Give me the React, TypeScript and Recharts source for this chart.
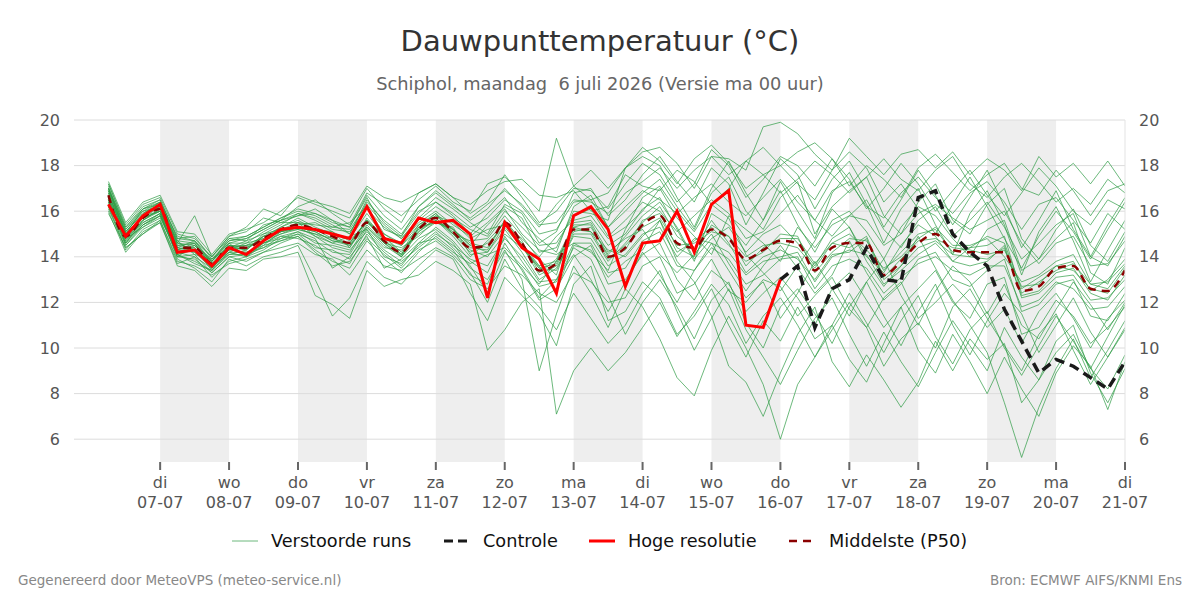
import React from "react";
import { LineChart, Line, XAxis, YAxis, ReferenceArea, ReferenceLine } from "recharts";

// tijd: eerste punt 06-07 06:00, stap 6 uur; uren relatief t.o.v. 07-07 00:00
const startUur = -18;
const stapUur = 6;

const dagTicks = [0, 24, 48, 72, 96, 120, 144, 168, 192, 216, 240, 264, 288, 312, 336];
const dagNamen = ["di", "wo", "do", "vr", "za", "zo", "ma", "di", "wo", "do", "vr", "za", "zo", "ma", "di"];
const dagDatums = ["07-07", "08-07", "09-07", "10-07", "11-07", "12-07", "13-07", "14-07", "15-07", "16-07", "17-07", "18-07", "19-07", "20-07", "21-07"];
const grijzeDagen = [[0, 24], [48, 72], [96, 120], [144, 168], [192, 216], [240, 264], [288, 312]];
const yTicks = [6, 8, 10, 12, 14, 16, 18, 20];

const hogeResolutie = [
  16.3, 14.9, 15.8, 16.3, 14.2, 14.3, 13.6, 14.4, 14.1, 14.7,
  15.2, 15.3, 15.2, 15.0, 14.8, 16.2, 14.8, 14.6, 15.7, 15.5,
  15.6, 15.0, 12.2, 15.5, 14.4, 13.9, 12.4, 15.8, 16.2, 15.2,
  12.7, 14.6, 14.7, 16.0, 14.2, 16.3, 16.9, 11.0, 10.9, 13.0,
];

const controleStart = 39;
const controle = [
  13.0, 13.6, 10.9, 12.6, 13.0, 14.4, 13.0, 12.9, 16.6, 16.9, 15.0,
  14.2, 13.6, 11.7, 10.3, 8.9, 9.5, 9.2, 8.7, 8.2, 9.4,
];

const middelste = [
  16.7, 14.9, 15.7, 16.1, 14.4, 14.4, 13.7, 14.4, 14.4, 14.8,
  15.2, 15.4, 15.2, 14.9, 14.6, 15.5, 14.7, 14.2, 15.2, 15.7,
  15.1, 14.4, 14.5, 15.5, 14.6, 13.4, 13.7, 15.2, 15.2, 14.0,
  14.4, 15.4, 15.8, 14.6, 14.4, 15.2, 14.8, 13.9, 14.3, 14.7,
  14.6, 13.4, 14.4, 14.6, 14.6, 13.2, 13.8, 14.6, 15.0, 14.3,
  14.2, 14.2, 14.2, 12.5, 12.7, 13.5, 13.6, 12.6, 12.5, 13.4,
];

const run01 = [
  17.2, 15.3, 16.2, 16.5, 14.8, 14.9, 13.9, 14.7, 14.9, 15.3,
  15.7, 16.0, 15.8, 15.4, 15.0, 16.4, 15.6, 15.0, 16.0, 16.4,
  15.8, 15.0, 15.9, 16.6, 15.5, 14.8, 14.2, 16.2, 16.7, 15.3,
  16.0, 16.8, 17.4, 16.2, 15.2, 16.8, 17.5, 16.0, 15.2, 16.6,
  17.3, 15.0, 16.2, 16.9, 17.5, 15.8, 15.0, 16.4, 17.2, 15.6,
  15.0, 16.3, 17.0, 14.8, 13.9, 15.2, 16.1, 14.5, 13.8, 15.1,
];
const run02 = [
  16.4, 14.6, 15.5, 15.9, 14.0, 13.9, 13.3, 14.0, 13.8, 14.2,
  14.6, 14.9, 14.3, 13.8, 13.5, 14.7, 13.9, 13.3, 14.2, 14.9,
  14.3, 13.2, 12.8, 14.6, 13.4, 12.1, 12.6, 14.0, 14.5, 12.8,
  13.0, 14.1, 14.6, 13.0, 12.1, 13.4, 12.8, 11.6, 12.4, 13.1,
  12.2, 11.0, 12.6, 13.3, 12.1, 10.9, 11.8, 12.6, 13.4, 12.0,
  11.3, 12.8, 13.1, 10.6, 10.9, 12.1, 11.4, 10.2, 10.9, 11.8,
];
const run03 = [
  17.0, 15.1, 15.9, 16.3, 14.6, 14.3, 13.8, 14.6, 14.6, 15.1,
  15.5, 15.8, 15.9, 15.6, 15.3, 16.6, 15.2, 14.9, 15.9, 16.6,
  16.1, 15.5, 15.0, 16.3, 15.9, 14.6, 15.1, 16.8, 17.0, 15.8,
  16.5, 17.6, 18.4, 17.3, 16.4, 17.9, 17.2, 15.4, 16.8, 18.3,
  17.6, 16.1, 17.4, 18.2, 16.9, 15.3, 16.5, 17.8, 16.7, 15.4,
  16.6, 17.8, 16.2, 14.4, 15.6, 16.9, 15.2, 14.0, 15.4, 16.6,
];
const run04 = [
  16.2, 14.3, 15.2, 15.6, 13.9, 13.5, 12.9, 13.9, 13.6, 14.0,
  14.2, 14.5, 13.0, 11.4, 12.2, 13.8, 13.1, 12.8, 13.6, 14.3,
  13.9, 12.4, 11.2, 13.1, 12.3, 11.5, 10.1, 12.8, 13.6, 11.2,
  11.6, 12.9, 12.2, 10.6, 11.4, 12.6, 11.0, 9.6, 11.2, 10.3,
  11.8, 10.4, 11.0, 12.4, 11.1, 9.8, 11.2, 12.3, 10.5, 9.3,
  10.8, 11.6, 10.0, 8.8, 10.1, 11.4, 10.3, 9.1, 10.5, 11.9,
];
const run05 = [
  17.3, 15.5, 16.4, 16.7, 15.1, 15.0, 14.1, 15.0, 15.2, 15.5,
  16.0, 16.6, 16.3, 16.0, 15.7, 17.0, 16.1, 15.5, 16.8, 17.2,
  16.6, 15.9, 16.4, 17.6, 16.6, 15.5, 16.0, 17.0, 16.9, 16.1,
  17.2, 18.1, 17.6, 16.4, 17.2, 18.7, 18.0, 16.6, 17.4, 18.4,
  18.0, 17.1, 18.3, 17.4, 16.1, 17.0, 18.1, 17.2, 16.0, 16.9,
  17.8, 16.7, 15.8, 16.8, 17.9, 17.1, 16.0, 15.4, 16.5, 16.1,
];
const run06 = [
  15.9, 14.4, 15.0, 15.5, 13.7, 14.0, 13.1, 13.8, 14.0, 14.6,
  14.9, 14.8, 14.5, 14.0, 13.7, 15.0, 14.2, 13.6, 14.6, 15.3,
  14.7, 13.8, 13.3, 14.9, 13.8, 12.7, 12.9, 14.4, 13.9, 12.3,
  10.6, 12.0, 13.0, 11.8, 10.4, 12.1, 12.9, 11.1, 10.0, 11.8,
  12.6, 11.5, 10.2, 11.8, 12.9, 11.4, 10.1, 11.6, 12.8, 11.0,
  9.7, 11.2, 12.4, 11.5, 9.8, 11.0, 12.2, 10.7, 9.6, 10.9,
];
const run07 = [
  16.9, 15.0, 15.8, 16.2, 14.5, 14.6, 13.6, 14.5, 14.3, 14.9,
  15.3, 15.6, 15.2, 15.1, 14.4, 15.7, 14.8, 14.0, 15.3, 15.9,
  15.0, 14.7, 14.8, 15.8, 14.9, 13.9, 13.2, 15.5, 15.6, 14.5,
  15.0, 16.1, 16.6, 15.2, 13.8, 15.9, 15.4, 14.5, 15.6, 16.9,
  15.4, 14.2, 15.6, 16.0, 15.1, 13.9, 15.3, 16.2, 15.8, 14.8,
  14.0, 15.2, 15.6, 13.4, 13.9, 14.8, 15.5, 13.3, 12.8, 14.4,
];
const run08 = [
  16.6, 14.7, 15.6, 16.0, 14.3, 14.2, 13.5, 14.3, 14.2, 14.5,
  15.1, 15.2, 15.0, 14.6, 14.9, 15.2, 14.4, 14.3, 15.0, 15.5,
  15.3, 14.1, 14.2, 15.2, 14.2, 13.0, 13.5, 14.9, 14.8, 13.6,
  14.1, 15.0, 15.3, 14.0, 14.8, 14.6, 14.2, 13.2, 13.8, 14.0,
  14.2, 12.9, 14.0, 14.3, 14.1, 12.8, 13.4, 14.1, 14.6, 13.8,
  13.6, 13.8, 14.5, 12.2, 12.4, 13.1, 13.2, 12.1, 12.2, 13.0,
];
const run09 = [
  17.1, 15.2, 16.0, 16.4, 14.9, 14.7, 13.8, 14.8, 14.7, 15.4,
  15.6, 16.2, 16.5, 15.9, 15.4, 16.8, 16.3, 15.8, 16.5, 17.1,
  16.4, 16.0, 17.2, 17.5, 16.8, 16.0, 19.2, 17.1, 16.5, 16.8,
  17.9, 18.6, 18.8, 18.1, 17.0, 18.4, 18.3, 17.8, 19.7, 19.9,
  19.4, 18.5, 17.8, 19.2, 18.4, 17.6, 18.5, 18.7, 17.9, 18.6,
  17.6, 18.3, 17.8, 16.9, 18.4, 17.5, 18.1, 17.2, 18.2, 17.1,
];
const run10 = [
  16.0, 14.2, 15.1, 15.5, 13.6, 13.4, 12.7, 13.5, 13.4, 13.9,
  14.0, 14.2, 12.3, 11.9, 11.3, 13.4, 12.7, 13.0, 13.2, 13.8,
  13.4, 12.8, 9.9, 10.8, 12.0, 12.6, 7.1, 9.0, 10.0, 9.0,
  9.8, 10.9, 12.0, 10.5, 11.6, 12.8, 11.9, 10.2, 11.4, 12.2,
  11.0, 9.6, 10.8, 12.0, 10.9, 9.2, 10.4, 11.1, 10.0, 11.8,
  12.6, 11.3, 10.1, 9.0, 10.6, 11.5, 9.9, 8.4, 9.6, 10.8,
];
const run11 = [
  16.5, 14.5, 15.4, 15.8, 14.1, 13.7, 13.4, 14.1, 14.1, 14.4,
  14.7, 15.0, 14.7, 14.2, 14.1, 15.3, 14.5, 14.0, 14.8, 15.2,
  14.6, 13.5, 13.0, 14.3, 13.0, 9.0, 11.5, 13.6, 12.4, 10.9,
  12.6, 11.8, 10.4, 8.7, 7.9, 9.9, 11.4, 10.0, 8.4, 6.0,
  8.4, 9.6, 11.0, 9.5, 8.5, 10.2, 11.8, 9.9, 8.9, 10.6,
  9.4, 8.0, 9.6, 8.2, 7.0, 8.9, 10.1, 9.2, 7.3, 9.4,
];
const run12 = [
  16.8, 14.8, 15.7, 16.0, 14.0, 14.5, 13.7, 14.2, 14.5, 14.7,
  15.0, 15.3, 14.9, 14.4, 14.2, 15.4, 14.6, 14.4, 14.9, 15.6,
  15.0, 14.3, 14.0, 15.0, 14.4, 13.6, 12.5, 14.5, 14.3, 13.1,
  13.8, 14.3, 15.6, 13.8, 12.9, 11.4, 9.2, 8.5, 7.0, 8.9,
  10.6, 11.8, 9.4, 8.3, 9.7, 8.6, 7.4, 8.5, 10.3, 9.0,
  10.4, 9.5, 10.2, 7.6, 8.6, 9.8, 10.6, 9.1, 8.2, 9.7,
];
const run13 = [
  17.0, 15.0, 16.1, 16.3, 14.7, 14.1, 13.9, 14.4, 14.7, 15.0,
  15.4, 15.9, 15.6, 15.2, 15.1, 16.1, 15.3, 14.8, 15.6, 16.2,
  15.7, 15.2, 14.9, 16.0, 15.3, 14.5, 14.6, 15.8, 16.1, 14.9,
  15.6, 16.4, 16.0, 15.1, 15.8, 16.5, 15.9, 14.8, 15.1, 15.9,
  16.7, 15.6, 14.9, 15.8, 16.5, 15.2, 14.4, 15.6, 16.2, 14.9,
  15.6, 16.4, 15.3, 13.9, 14.6, 15.4, 15.9, 14.0, 13.6, 14.9,
];
const run14 = [
  16.3, 14.8, 15.3, 15.7, 14.2, 14.4, 13.4, 14.6, 14.0, 14.3,
  14.8, 15.1, 14.8, 13.5, 14.0, 14.9, 13.5, 13.9, 14.6, 14.8,
  14.2, 13.7, 14.1, 14.4, 13.6, 12.8, 13.8, 15.3, 15.5, 14.2,
  14.8, 15.2, 14.1, 13.3, 14.1, 15.0, 13.7, 12.5, 13.6, 14.5,
  13.5, 12.4, 13.2, 14.7, 13.3, 12.1, 12.8, 13.9, 14.2, 13.0,
  12.7, 13.4, 13.9, 11.6, 11.9, 12.8, 13.0, 11.4, 11.2, 12.4,
];
const run15 = [
  16.7, 15.1, 15.9, 16.4, 14.6, 15.8, 14.0, 14.9, 15.1, 15.7,
  15.5, 15.5, 15.4, 15.3, 15.5, 16.2, 15.0, 14.6, 15.5, 16.0,
  15.4, 14.9, 15.5, 16.2, 15.7, 14.2, 14.4, 16.0, 15.9, 15.6,
  17.9, 18.4, 18.0, 16.6, 15.3, 17.0, 18.2, 16.8, 15.6, 17.3,
  16.0, 14.8, 16.8, 17.7, 16.3, 14.6, 16.1, 17.0, 15.4, 14.1,
  15.9, 16.9, 15.4, 13.2, 15.1, 16.2, 14.7, 12.9, 14.3, 15.6,
];
const run16 = [
  16.5, 14.6, 15.6, 16.1, 14.4, 14.2, 13.6, 14.3, 14.4, 14.8,
  15.3, 15.7, 15.3, 15.0, 14.8, 15.9, 14.9, 14.2, 15.4, 15.9,
  15.2, 14.6, 14.4, 15.6, 14.7, 13.3, 13.9, 15.4, 15.4, 14.0,
  14.3, 15.6, 15.9, 14.4, 14.0, 15.4, 14.9, 13.6, 14.4, 14.8,
  14.8, 13.7, 14.6, 15.0, 14.3, 13.5, 14.0, 14.8, 15.3, 14.5,
  14.5, 14.8, 14.0, 12.9, 13.2, 13.8, 14.1, 12.8, 12.9, 13.7,
];
const run17 = [
  16.8, 14.9, 15.8, 16.0, 14.3, 14.5, 13.8, 14.5, 14.5, 14.6,
  15.0, 15.2, 15.0, 14.8, 14.6, 15.6, 14.7, 14.1, 15.1, 15.7,
  15.0, 14.2, 14.6, 15.3, 14.4, 13.5, 13.4, 15.0, 15.0, 13.8,
  14.6, 15.5, 16.2, 14.9, 14.3, 15.6, 14.6, 13.3, 14.0, 14.3,
  13.9, 13.0, 14.1, 14.2, 14.8, 13.0, 13.6, 14.4, 14.7, 14.1,
  14.0, 13.9, 14.4, 12.3, 12.5, 13.3, 13.5, 12.4, 12.1, 13.2,
];
const run18 = [
  17.2, 15.4, 16.3, 16.6, 15.0, 14.8, 14.0, 14.9, 15.3, 16.1,
  15.8, 16.7, 16.4, 16.2, 15.9, 17.1, 16.6, 16.4, 16.8, 17.2,
  16.6, 16.3, 16.9, 17.3, 17.4, 16.7, 16.6, 16.9, 16.0, 16.2,
  17.6, 17.1, 16.9, 17.8, 17.3, 16.3, 17.0, 18.2, 17.6, 16.8,
  17.4, 18.2, 17.6, 16.8, 17.5, 18.3, 17.4, 16.9, 17.8, 18.4,
  17.2, 16.6, 17.5, 18.1, 17.3, 16.4, 17.0, 16.3, 17.4, 16.8,
];
const run19 = [
  16.1, 14.4, 15.0, 15.6, 13.8, 13.6, 13.2, 13.7, 13.9, 14.2,
  14.4, 14.6, 14.1, 13.9, 13.2, 14.3, 13.6, 13.4, 13.9, 14.4,
  14.0, 13.0, 12.6, 13.6, 13.2, 12.4, 12.0, 13.3, 12.9, 12.0,
  12.2, 13.6, 14.0, 12.4, 12.8, 13.9, 12.5, 12.0, 13.0, 12.7,
  11.4, 12.3, 13.1, 11.7, 10.9, 12.2, 12.9, 11.3, 12.0, 12.8,
  12.0, 10.9, 11.7, 10.2, 11.6, 12.4, 11.3, 10.0, 11.3, 12.1,
];
const run20 = [
  16.6, 15.0, 15.7, 16.2, 14.5, 14.4, 13.5, 14.4, 14.3, 15.0,
  15.2, 15.4, 15.5, 15.1, 14.7, 15.5, 14.8, 14.5, 15.2, 15.8,
  15.5, 14.8, 15.2, 15.4, 14.8, 14.0, 14.9, 15.6, 15.8, 14.8,
  15.3, 16.0, 17.0, 15.7, 14.9, 14.1, 15.8, 15.2, 14.6, 13.8,
  15.3, 14.4, 15.4, 15.8, 15.6, 14.5, 15.0, 15.9, 16.3, 15.7,
  15.2, 15.6, 16.0, 14.6, 13.7, 14.6, 14.9, 13.6, 13.7, 14.7,
];
const run21 = [
  16.4, 14.7, 15.4, 15.8, 14.2, 14.0, 13.5, 14.2, 14.2, 14.4,
  14.9, 15.1, 14.6, 14.5, 14.3, 15.1, 14.3, 13.8, 14.4, 15.0,
  14.5, 13.9, 13.6, 14.8, 14.0, 12.9, 13.0, 14.6, 14.6, 13.3,
  13.5, 14.7, 15.1, 13.6, 13.4, 14.4, 13.9, 12.8, 13.2, 13.9,
  14.0, 12.6, 13.6, 13.9, 13.5, 12.4, 13.1, 13.7, 14.0, 13.4,
  13.2, 13.6, 13.6, 11.8, 12.1, 12.9, 12.6, 11.7, 11.8, 12.7,
];
const run22 = [
  17.0, 15.2, 16.1, 16.4, 14.7, 14.6, 13.8, 14.7, 14.8, 15.2,
  15.6, 15.9, 15.7, 15.3, 15.2, 16.3, 15.4, 14.8, 15.7, 16.4,
  15.9, 15.3, 15.7, 16.5, 16.0, 15.0, 15.2, 16.4, 16.5, 15.3,
  16.2, 16.9, 16.5, 15.9, 16.6, 17.2, 16.4, 15.8, 16.6, 17.4,
  16.4, 15.6, 16.9, 17.3, 16.2, 15.7, 16.8, 17.5, 16.6, 15.9,
  16.8, 17.3, 16.4, 15.2, 16.3, 16.6, 15.6, 14.6, 15.9, 15.2,
];
const run23 = [
  16.5, 14.8, 15.5, 15.9, 14.1, 14.3, 13.6, 14.1, 14.3, 14.9,
  15.1, 15.3, 15.1, 14.7, 14.5, 15.3, 14.6, 14.0, 15.1, 15.6,
  14.9, 14.0, 14.7, 15.5, 14.5, 13.2, 13.6, 15.1, 15.3, 14.1,
  14.9, 15.8, 16.4, 15.3, 13.9, 14.8, 15.3, 14.2, 15.0, 15.4,
  14.6, 13.6, 14.8, 15.3, 14.0, 13.3, 14.5, 15.4, 14.9, 13.8,
  14.4, 14.9, 14.6, 12.6, 13.1, 13.6, 13.8, 12.5, 13.0, 13.9,
];
const run24 = [
  16.9, 15.0, 15.8, 16.3, 14.4, 14.7, 13.7, 14.3, 14.6, 14.8,
  15.2, 15.5, 15.2, 14.8, 14.5, 15.6, 14.9, 14.1, 15.3, 15.5,
  15.2, 14.5, 14.2, 15.4, 14.6, 13.6, 13.8, 15.3, 15.1, 14.3,
  14.0, 14.9, 15.6, 14.2, 14.7, 15.3, 14.5, 13.8, 14.2, 15.0,
  14.9, 13.3, 14.2, 14.8, 14.7, 13.4, 14.2, 15.0, 15.2, 14.2,
  14.4, 14.5, 14.9, 12.4, 12.9, 13.4, 13.7, 12.8, 12.6, 13.6,
];
const run25 = [
  16.6, 14.8, 15.6, 16.1, 14.3, 14.6, 13.6, 14.4, 14.5, 14.9,
  15.1, 15.5, 14.9, 14.6, 14.4, 15.5, 15.0, 14.5, 15.4, 15.8,
  15.2, 14.5, 15.4, 16.1, 15.0, 14.3, 14.1, 14.6, 14.2, 13.4,
  15.2, 16.6, 17.1, 16.0, 15.1, 16.3, 15.7, 14.1, 13.3, 12.5,
  13.6, 14.7, 16.1, 15.3, 13.8, 12.7, 13.6, 14.9, 13.5, 12.1,
  11.0, 9.8, 7.6, 5.2, 7.4, 9.1, 10.4, 8.7, 9.9, 11.2,
];
const run26 = [
  16.9, 15.1, 16.0, 16.2, 14.6, 14.5, 13.9, 14.6, 14.8, 15.2,
  15.6, 15.8, 16.1, 15.6, 15.0, 16.5, 15.5, 14.9, 16.2, 16.9,
  16.3, 15.6, 16.1, 17.0, 16.2, 15.3, 16.3, 17.1, 17.8, 17.0,
  17.9, 18.8, 18.2, 17.2, 18.3, 18.9, 18.1, 17.0, 17.6, 18.0,
  17.2, 16.5, 17.8, 18.6, 17.9, 16.4, 17.2, 16.1, 15.0, 16.3,
  17.5, 16.2, 14.8, 13.5, 14.9, 16.0, 15.1, 13.9, 15.2, 16.4,
];
const run27 = [
  16.2, 14.5, 15.3, 15.8, 14.0, 14.1, 13.3, 14.0, 14.1, 14.6,
  14.8, 15.0, 14.4, 14.3, 13.9, 15.2, 14.0, 13.7, 14.5, 15.1,
  14.4, 13.6, 12.4, 14.2, 13.5, 12.2, 13.0, 14.1, 13.0, 11.6,
  12.9, 14.2, 13.2, 12.0, 13.4, 14.6, 13.4, 12.2, 12.9, 11.3,
  12.4, 13.8, 12.6, 11.4, 12.9, 13.9, 12.3, 11.0, 12.5, 13.6,
  12.9, 11.5, 12.8, 11.0, 10.4, 11.7, 12.9, 11.9, 10.8, 12.0,
];
const run28 = [
  17.0, 15.3, 16.1, 16.5, 14.8, 14.7, 14.0, 14.8, 14.9, 15.3,
  15.7, 16.1, 15.9, 15.5, 15.3, 16.7, 15.8, 15.2, 16.2, 16.8,
  16.2, 15.7, 16.3, 16.9, 16.3, 15.4, 15.5, 16.5, 16.4, 15.9,
  16.8, 17.3, 17.9, 17.0, 17.8, 18.4, 17.6, 18.2, 18.8, 18.0,
  18.6, 19.0, 18.3, 17.1, 18.0, 17.4, 16.6, 17.9, 18.5, 17.7,
  16.9, 17.6, 18.1, 17.0, 16.7, 17.8, 16.9, 15.8, 16.9, 17.2,
];
const run29 = [
  16.7, 14.9, 15.7, 16.0, 14.4, 14.3, 13.7, 14.5, 14.4, 14.7,
  15.1, 15.3, 15.1, 14.7, 14.6, 15.6, 14.6, 14.1, 15.2, 15.6,
  15.1, 14.4, 14.3, 15.6, 14.5, 13.5, 13.7, 15.2, 15.1, 13.9,
  14.5, 15.3, 15.7, 14.5, 14.6, 15.1, 14.9, 14.0, 14.5, 14.6,
  14.4, 13.5, 14.6, 14.4, 14.9, 13.1, 13.9, 14.7, 14.8, 14.4,
  14.3, 14.1, 14.3, 12.7, 12.8, 13.6, 13.4, 12.6, 12.4, 13.5,
];
const run30 = [
  16.3, 14.6, 15.4, 15.9, 14.1, 13.8, 13.4, 14.2, 14.0, 14.5,
  14.7, 14.9, 14.2, 13.6, 13.8, 14.8, 14.1, 13.5, 14.3, 14.7,
  14.1, 13.3, 12.0, 13.9, 12.6, 11.8, 10.8, 12.4, 11.3, 10.2,
  11.0, 12.4, 13.4, 11.6, 9.9, 11.3, 12.6, 10.8, 9.6, 8.4,
  9.9, 11.3, 12.2, 10.6, 9.2, 10.7, 9.4, 8.3, 9.8, 11.2,
  10.1, 9.0, 10.9, 9.6, 8.6, 10.3, 11.0, 8.9, 7.6, 9.1,
];

const verstoordeRuns = [
  run01, run02, run03, run04, run05, run06, run07, run08, run09, run10,
  run11, run12, run13, run14, run15, run16, run17, run18, run19, run20,
  run21, run22, run23, run24, run25, run26, run27, run28, run29, run30,
];

const tabel = middelste.map((p50, i) => {
  const rij: Record<string, number | null> = {
    t: startUur + i * stapUur,
    p50,
    hres: i < hogeResolutie.length ? hogeResolutie[i] : null,
    ctrl: i >= controleStart ? controle[i - controleStart] : null,
  };
  verstoordeRuns.forEach((run, k) => {
    rij["run" + k] = run[i];
  });
  return rij;
});

const font = "'DejaVu Sans', Verdana, sans-serif";
const groen = "#2e9b45";

function DagTick(props: any) {
  const { x, y, payload } = props;
  const idx = dagTicks.indexOf(payload.value);
  return (
    <g>
      <text x={x} y={y + 16} textAnchor="middle" fill="#555" fontSize={16}>
        {dagNamen[idx]}
      </text>
      <text x={x} y={y + 36} textAnchor="middle" fill="#555" fontSize={16}>
        {dagDatums[idx]}
      </text>
    </g>
  );
}

function LegendItem({ left, textLeft, label, stroke, width, dash, opacity }: any) {
  return (
    <>
      <svg style={{ position: "absolute", left, top: 532, width: 28, height: 18 }}>
        <line x1={0} y1={9} x2={26} y2={9} stroke={stroke} strokeWidth={width} strokeDasharray={dash} strokeOpacity={opacity} />
      </svg>
      <div style={{ position: "absolute", left: textLeft, top: 532, fontSize: 17.7, lineHeight: "18px", color: "#111", whiteSpace: "nowrap" }}>
        {label}
      </div>
    </>
  );
}

export default function App() {
  return (
    <div style={{ position: "absolute", left: 0, top: 0, width: 1200, height: 600, background: "#fff", fontFamily: font }}>
      <div style={{ position: "absolute", top: 24, width: 1200, textAlign: "center", fontSize: 29, lineHeight: "34px", color: "#333" }}>
        Dauwpunttemperatuur (°C)
      </div>
      <div style={{ position: "absolute", top: 73, width: 1200, textAlign: "center", fontSize: 17.8, lineHeight: "22px", color: "#666", whiteSpace: "pre" }}>
        Schiphol, maandag  6 juli 2026 (Versie ma 00 uur)
      </div>

      <div style={{ position: "absolute", left: 0, top: 0 }}>
        <LineChart width={1200} height={520} data={tabel} margin={{ top: 120, right: 15, bottom: 8, left: 14 }}>
          {grijzeDagen.map(([a, b]) => (
            <ReferenceArea key={a} yAxisId="left" x1={a} x2={b} y1={5} y2={20} fill="#eeeeee" fillOpacity={1} stroke="none" />
          ))}
          {yTicks.map((v) => (
            <ReferenceLine key={v} yAxisId="left" y={v} stroke="#dcdcdc" strokeWidth={1} />
          ))}
          <XAxis
            dataKey="t"
            type="number"
            domain={[-30, 336]}
            ticks={dagTicks}
            interval={0}
            allowDataOverflow
            axisLine={false}
            tickLine={{ stroke: "#666", strokeWidth: 2 }}
            tickSize={8}
            height={50}
            tick={<DagTick />}
          />
          <YAxis
            yAxisId="left"
            orientation="left"
            domain={[5, 20]}
            ticks={yTicks}
            allowDataOverflow
            axisLine={false}
            tickLine={false}
            width={60}
            tickMargin={8}
            tick={{ fill: "#555", fontSize: 16 }}
          />
          <YAxis
            yAxisId="right"
            orientation="right"
            domain={[5, 20]}
            ticks={yTicks}
            allowDataOverflow
            axisLine={{ stroke: "#e3e3e3" }}
            tickLine={false}
            width={60}
            tickMargin={8}
            tick={{ fill: "#555", fontSize: 16 }}
          />
          {verstoordeRuns.map((_, k) => (
            <Line
              key={k}
              yAxisId="left"
              dataKey={"run" + k}
              type="linear"
              stroke={groen}
              strokeOpacity={0.7}
              strokeWidth={1}
              dot={false}
              activeDot={false}
              isAnimationActive={false}
            />
          ))}
          <Line yAxisId="left" dataKey="p50" type="monotone" stroke="#8b0000" strokeWidth={2.5} strokeDasharray="8 6" dot={false} isAnimationActive={false} />
          <Line yAxisId="left" dataKey="ctrl" type="linear" stroke="#1a1a1a" strokeWidth={3.5} strokeDasharray="10 6" dot={false} isAnimationActive={false} />
          <Line yAxisId="left" dataKey="hres" type="linear" stroke="#ff0000" strokeWidth={3} dot={false} isAnimationActive={false} />
        </LineChart>
      </div>

      <LegendItem left={232} textLeft={271} label="Verstoorde runs" stroke={groen} width={1} opacity={0.7} />
      <LegendItem left={444} textLeft={483} label="Controle" stroke="#1a1a1a" width={3} dash="9 5" />
      <LegendItem left={589} textLeft={628} label="Hoge resolutie" stroke="#ff0000" width={3} />
      <LegendItem left={789} textLeft={829} label="Middelste (P50)" stroke="#8b0000" width={2.5} dash="8 6" />

      <div style={{ position: "absolute", left: 18, top: 572, fontSize: 13.5, lineHeight: "16px", color: "#888" }}>
        Gegenereerd door MeteoVPS (meteo-service.nl)
      </div>
      <div style={{ position: "absolute", right: 18, top: 572, fontSize: 13.5, lineHeight: "16px", color: "#888" }}>
        Bron: ECMWF AIFS/KNMI Ens
      </div>
    </div>
  );
}
